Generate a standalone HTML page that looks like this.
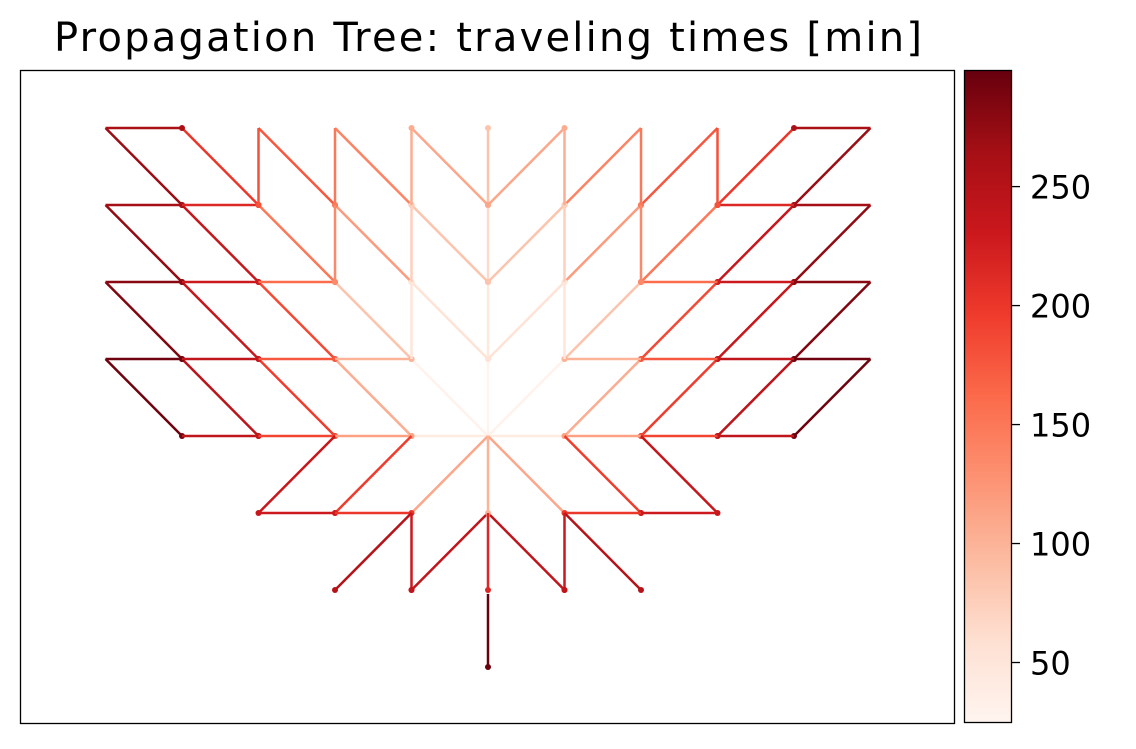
<!DOCTYPE html>
<html><head><meta charset="utf-8">
<style>
html,body{margin:0;padding:0;background:#fff;}
body{width:1136px;height:745px;overflow:hidden;font-family:"DejaVu Sans","Liberation Sans",sans-serif;}
</style></head>
<body>
<svg id="chart" width="1136" height="745" viewBox="0 0 1136 745" xmlns="http://www.w3.org/2000/svg" font-family="DejaVu Sans, Liberation Sans, sans-serif">
<defs>
<linearGradient id="cbgrad" x1="0" y1="1" x2="0" y2="0">
<stop offset="0" stop-color="#fff5f0"/><stop offset="0.125" stop-color="#fee0d2"/>
<stop offset="0.25" stop-color="#fcbba1"/><stop offset="0.375" stop-color="#fc9272"/>
<stop offset="0.5" stop-color="#fb6a4a"/><stop offset="0.625" stop-color="#ef3b2c"/>
<stop offset="0.75" stop-color="#cb181d"/><stop offset="0.875" stop-color="#a50f15"/>
<stop offset="1" stop-color="#67000d"/>
</linearGradient>
</defs>
<text x="488" y="51" text-anchor="middle" font-size="40" textLength="868" lengthAdjust="spacing" fill="#000">Propagation Tree: traveling times [min]</text>
<rect x="20.5" y="70.5" width="934" height="653" fill="#fff" stroke="#000" stroke-width="1.3"/>
<g id="edges"></g>
<rect x="964.5" y="70.5" width="47" height="652" fill="url(#cbgrad)" stroke="#000" stroke-width="1.3"/>
<g id="cbticks"></g>
</svg>
<script>
// Left half edges: [c1, r1, c2, r2] grid coordinates, values in minutes
const leftEdges = [
[0,0,-1,1],[0,0,-1,0],[0,0,0,1],[0,1,0,2],[0,2,0,3],[0,3,0,4],
[-5,4,-4,3],[-4,4,-3,3],[-3,4,-2,3],[-2,4,-1,3],[-1,4,0,3],
[-5,3,-4,2],[-4,3,-3,2],[-3,3,-2,2],[-2,3,-1,2],[-1,3,0,2],
[-5,2,-4,1],[-4,2,-3,1],[-3,2,-2,1],[-2,2,-1,1],[-1,2,0,1],
[-5,1,-4,0],[-4,1,-3,0],[-3,1,-2,0],[-2,1,-1,0],
[-5,4,-4,4],
[-5,3,-4,3],[-4,3,-3,3],
[-5,2,-4,2],[-4,2,-3,2],[-3,2,-2,2],
[-5,1,-4,1],[-4,1,-3,1],[-3,1,-2,1],[-2,1,-1,1],
[-4,0,-3,0],[-3,0,-2,0],[-2,0,-1,0],
[-3,4,-3,3],[-2,4,-2,3],[-2,3,-2,2],
[-1,1,-1,2],[-1,2,-1,3],[-1,3,-1,4],
[-2,0,-3,-1],[-1,0,-2,-1],[0,0,-1,-1],
[-3,-1,-2,-1],[-2,-1,-1,-1],
[-1,-1,-2,-2],[-1,-1,-1,-2],[0,-1,-1,-2]
];
const leftValues = [
30,40,28,45,65,85,
270,200,175,140,110,
275,235,150,120,85,
285,235,185,85,55,
295,245,195,105,
260,
265,215,
280,230,160,
295,240,175,100,
240,190,115,
180,150,135,
50,75,105,
235,195,110,
230,200,
250,230,240
];
// Centre stem edges (not mirrored)
const stemEdges = [[0,0,0,-1],[0,-1,0,-2],[0,-2.05,0,-3]];
const stemValues = [100,215,298];
const tickValues = [50,100,150,200,250];
const vmin = 25, vmax = 299;

const x0 = 488, y0 = 436, dx = 76.5, dy = 77;
const X = c => x0 + c*dx, Y = r => y0 - r*dy;
const stops = [[255,245,240],[254,224,210],[252,187,161],[252,146,114],[251,106,74],[239,59,44],[203,24,29],[165,15,21],[103,0,13]];
function color(v){
  let t = Math.max(0, Math.min(1, (v-vmin)/(vmax-vmin)))*8;
  const i = Math.min(7, Math.floor(t)), f = t-i;
  const a = stops[i], b = stops[i+1];
  return 'rgb(' + a.map((k,j)=>Math.round(k+(b[j]-k)*f)).join(',') + ')';
}
const NS = 'http://www.w3.org/2000/svg';
const g = document.getElementById('edges');
function drawEdge(e, v, name){
  const col = color(v);
  const l = document.createElementNS(NS,'line');
  l.setAttribute('x1', X(e[0])); l.setAttribute('y1', Y(e[1]));
  l.setAttribute('x2', X(e[2])); l.setAttribute('y2', Y(e[3]));
  l.setAttribute('stroke', col); l.setAttribute('stroke-width', '2.5');
  
  
  g.appendChild(l);
  const c = document.createElementNS(NS,'circle');
  c.setAttribute('cx', X(e[2])); c.setAttribute('cy', Y(e[3]));
  c.setAttribute('r', '3'); c.setAttribute('fill', col);
  
  
  g.appendChild(c);
}
leftEdges.forEach((e,i)=>{
  drawEdge(e, leftValues[i], 'edge-left-' + i);
  if (!(e[0]===0 && e[2]===0)) drawEdge([-e[0],e[1],-e[2],e[3]], leftValues[i], 'edge-right-' + i);
});
stemEdges.forEach((e,i)=>drawEdge(e, stemValues[i], 'edge-stem-' + i));

const cbTop = 70, cbBot = 722;
const cy = v => cbBot - (v-vmin)/(vmax-vmin)*(cbBot-cbTop);
const tg = document.getElementById('cbticks');
tickValues.forEach(v=>{
  const t = document.createElementNS(NS,'line');
  t.setAttribute('x1', 1012); t.setAttribute('x2', 1020);
  t.setAttribute('y1', cy(v)); t.setAttribute('y2', cy(v));
  t.setAttribute('stroke', '#000'); t.setAttribute('stroke-width', '1.3');
  
  
  tg.appendChild(t);
  const s = document.createElementNS(NS,'text');
  s.setAttribute('x', 1030); s.setAttribute('y', cy(v) + 12);
  s.setAttribute('font-size', '32'); s.setAttribute('fill', '#000');
  s.textContent = v;
  
  
  tg.appendChild(s);
});
</script>
</body></html>
